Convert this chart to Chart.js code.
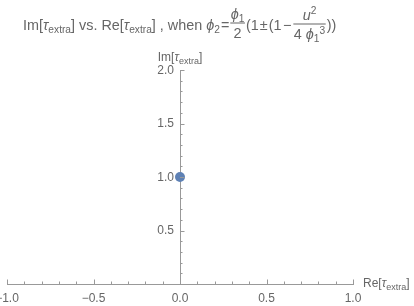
<!DOCTYPE html>
<html>
<head>
<meta charset="utf-8">
<script src="https://cdn.jsdelivr.net/npm/chart.js@4/dist/chart.umd.min.js"></script>
<style>
  html, body { margin: 0; padding: 0; background: #fff; }
  #wrap { width: 414px; height: 306px; }
</style>
</head>
<body>
<div id="wrap"><canvas id="c" width="414" height="306"></canvas></div>
<script>
// data: one point, Re and Im of tau_extra
const reValues = [0]
const imValues = [1]
const xRange = [-1, 1]
const yRange = [0, 2]
const majorStep = 0.5
const minorStep = 0.1

const FONT = '"Liberation Sans", Arial, sans-serif'
const textColor = '#666666'
const axisColor = '#999999'
const pointColor = '#5e81b5'
const T = 14.4, S = 10.2

function fmt(v) {
  let s = Math.abs(v).toFixed(1)
  return v < 0 ? '\u2212' + s : s
}

// draws a run of text parts [text, size, italic, dy, gapAfter] from x, returns end x
function run(ctx, x, y, parts, draw) {
  parts.forEach(function(p) {
    ctx.font = (p[2] ? 'italic ' : '') + p[1] + 'px ' + FONT
    if (draw !== false) ctx.fillText(p[0], x, y + (p[3] || 0))
    x += ctx.measureText(p[0]).width + (p[4] || 0)
  })
  return x
}

function frac(ctx, x, barY, num, den) {
  let wn = run(ctx, 0, 0, num, false)
  let wd = run(ctx, 0, 0, den, false)
  let w = Math.max(wn, wd) + 1
  run(ctx, x + (w - wn) / 2, barY - 4, num)
  run(ctx, x + (w - wd) / 2, barY + 15, den)
  ctx.fillRect(x, barY - 0.5, w, 1)
  return x + w
}

const axesPlugin = {
  id: 'mmaAxes',
  afterDraw(chart) {
    let ctx = chart.ctx
    let xs = chart.scales.x, ys = chart.scales.y
    let x0 = xs.getPixelForValue(0), y0 = ys.getPixelForValue(0)
    ctx.save()
    ctx.strokeStyle = axisColor
    ctx.lineWidth = 1
    ctx.beginPath()
    // x-axis ticks, pointing up
    for (let i = Math.round(xRange[0] / minorStep); i <= Math.round(xRange[1] / minorStep); i++) {
      let major = i % 5 === 0
      let px = Math.round(xs.getPixelForValue(i * minorStep)) + 0.5
      ctx.moveTo(px, y0)
      ctx.lineTo(px, y0 - (major ? 4.5 : 2.5))
    }
    // y-axis ticks, pointing right
    for (let i = 1; i <= Math.round(yRange[1] / minorStep); i++) {
      let major = i % 5 === 0
      let py = Math.round(ys.getPixelForValue(i * minorStep)) + 0.5
      ctx.moveTo(x0, py)
      ctx.lineTo(x0 + (major ? 4.5 : 2.5), py)
    }
    ctx.stroke()

    ctx.fillStyle = textColor
    // y tick labels, left of the axis
    ctx.font = '12px ' + FONT
    ctx.textAlign = 'right'
    ctx.textBaseline = 'middle'
    ys.ticks.forEach(function(t) {
      if (t.value === 0) return
      ctx.fillText(fmt(t.value), x0 - 6, ys.getPixelForValue(t.value) + 0.5)
    })

    ctx.textBaseline = 'alphabetic'
    ctx.textAlign = 'left'
    // axis labels
    let yLab = [['Im[', 12], ['\u03c4', 12, true], ['extra', 9, false, 3], [']', 12]]
    let wy = run(ctx, 0, 0, yLab, false)
    run(ctx, x0 - wy / 2, ys.getPixelForValue(yRange[1]) - 9, yLab)
    let xLab = [['Re[', 12], ['\u03c4', 12, true], ['extra', 9, false, 3], [']', 12]]
    run(ctx, xs.getPixelForValue(xRange[1]) + 10, y0 + 3, xLab)

    // title
    let by = 30
    let x = run(ctx, 23, by, [
      ['Im[', T], ['\u03c4', T, true], ['extra', S, false, 3], [']', T],
      [' vs. Re[', T], ['\u03c4', T, true], ['extra', S, false, 3], [']', T],
      [' , when ', T], ['\u03d5', T, true], ['2', S, false, 3, 1], ['=', T, false, 0, 1]
    ])
    x = frac(ctx, x, by - 7, [['\u03d5', T, true], ['1', S, false, 3]], [['2', T]])
    x = run(ctx, x + 1, by, [['(1', T, false, 0, 1], ['\u00b1', T, false, 0, 1],
      ['(1', T, false, 0, 1.5], ['\u2212', T, false, 0, 2]])
    x = frac(ctx, x, by - 6, [['u', T, true], ['2', S, false, -6]],
      [['4 ', T], ['\u03d5', T, true], ['1', S, false, 3], ['3', S, false, -5]])
    run(ctx, x + 1, by, [['))', T]])
    ctx.restore()
  }
}

new Chart(document.getElementById('c'), {
  type: 'scatter',
  data: {
    datasets: [{
      data: reValues.map((v, i) => ({ x: v, y: imValues[i] })),
      backgroundColor: pointColor,
      borderWidth: 0,
      pointRadius: 5,
    }],
  },
  options: {
    responsive: false,
    animation: false,
    devicePixelRatio: 1,
    layout: { padding: { left: 7, right: 61, top: 70, bottom: 22 } },
    plugins: { legend: { display: false }, tooltip: { enabled: false } },
    scales: {
      x: {
        type: 'linear',
        position: { y: 0 },
        min: xRange[0],
        max: xRange[1],
        grid: { display: false, drawTicks: false },
        border: { display: true, color: axisColor, width: 1 },
        ticks: {
          stepSize: majorStep,
          padding: 7,
          color: textColor,
          font: { family: FONT, size: 12 },
          maxRotation: 0,
          autoSkip: false,
          callback: v => fmt(v),
        },
        afterFit(s) { s.paddingLeft = 0; s.paddingRight = 0 },
      },
      y: {
        type: 'linear',
        position: { x: 0 },
        min: yRange[0],
        max: yRange[1],
        grid: { display: false, drawTicks: false },
        border: { display: true, color: axisColor, width: 1 },
        ticks: { stepSize: majorStep, display: false },
        afterFit(s) { s.paddingTop = 0; s.paddingBottom = 0 },
      },
    },
  },
  plugins: [axesPlugin],
})
</script>
</body>
</html>
